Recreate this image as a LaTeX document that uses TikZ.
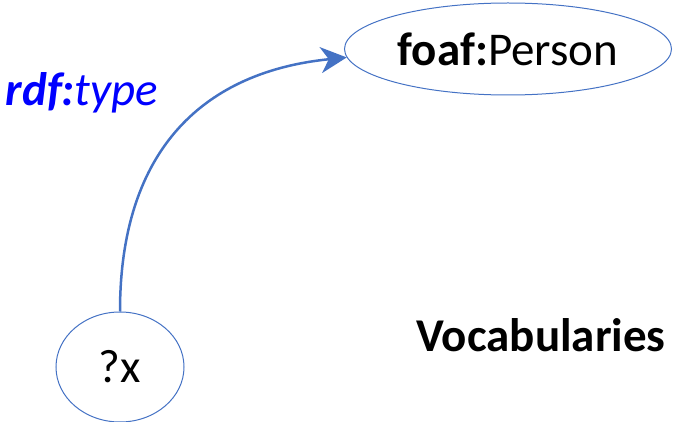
\documentclass[tikz,border=0pt]{standalone}
\usepackage{fontspec}
\setmainfont{Carlito}
\usetikzlibrary{shapes.geometric,arrows.meta}
\definecolor{linkblue}{RGB}{68,114,196}
\begin{document}
\begin{tikzpicture}
		[x=1pt, y=-1pt,
		every node/.style={font=\fontsize{47}{56}\selectfont,inner sep=0pt},
		resource/.style={ellipse,draw=linkblue,line width=1pt},
		property/.style={text=blue,font=\fontsize{47}{56}\selectfont\itshape},
		link/.style={draw=linkblue,line width=2.5pt,-{Stealth[length=26pt,width=26pt,inset=8pt]}},
		]
		\useasboundingbox (0,0) rectangle (673,422);

		\node[resource,minimum width=327pt,minimum height=92pt] (person) at (508,49) {\textbf{foaf:}Person};
		\node[resource,minimum width=128pt,minimum height=110pt] (x) at (120,367) {?x};
		\node[property] (type) at (82,93) {\textbf{rdf:}type};
		\node[font=\fontsize{47}{56}\selectfont\bfseries] (vocab) at (541,335) {Vocabularies};

		% Kante von ?x zur Klasse
		\draw[link] (x.north) .. controls +(0,-165) and +(-140,14) .. (person.183);
	\end{tikzpicture}
\end{document}
